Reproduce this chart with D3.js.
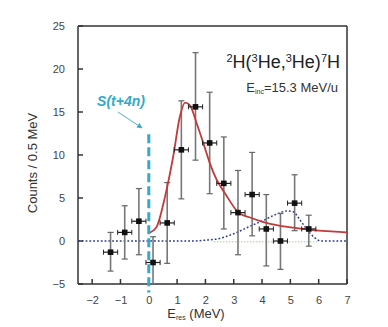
<!DOCTYPE html>
<html>
<head>
<meta charset="utf-8">
<script src="https://cdn.jsdelivr.net/npm/d3@7"></script>
<style>
  body { margin: 0; background: #fff; }
  text { font-family: "Liberation Sans", Arial, sans-serif; }
</style>
</head>
<body>
<div id="chart"></div>
<script>
// measured spectrum, bins of 0.5 MeV
const binCenters = [-1.35, -0.85, -0.35, 0.15, 0.65, 1.15, 1.65, 2.15, 2.65, 3.15, 3.65, 4.15, 4.65, 5.15, 5.65];
const counts     = [-1.3, 1.0, 2.3, -2.5, 2.1, 10.6, 15.6, 11.4, 6.7, 3.3, 5.4, 1.4, 0.0, 4.4, 1.4];
const errHigh    = [1.0, 4.1, 6.1, 0.5, 6.8, 16.3, 21.9, 17.3, 12.1, 8.2, 10.3, 5.4, 3.2, 7.7, 3.0];
const errLow     = [-3.5, -2.1, -1.6, -5.0, -2.6, 4.9, 9.4, 5.5, 1.4, -1.6, 0.6, -2.9, -3.3, 1.2, -0.6];

// fitted curve (red)
const fitX = [0.0, 0.27, 0.57, 0.86, 1.1, 1.28, 1.45, 1.69, 1.93, 2.16, 2.4, 2.7, 3.17, 3.6, 4.05, 4.6, 5.1, 5.7, 6.3, 7.0];
const fitY = [0.9, 1.6, 5.1, 9.8, 14.5, 16.1, 15.8, 13.7, 11.35, 9.0, 7.1, 5.5, 3.3, 2.7, 2.2, 1.8, 1.55, 1.3, 1.15, 1.0];

// background component (blue dotted)
const bgX = [-2.5, 1.5, 2.0, 2.5, 3.0, 3.5, 4.05, 4.5, 4.9, 5.1, 5.35, 5.6, 5.85, 6.1, 7.0];
const bgY = [0, 0, 0.1, 0.3, 0.85, 1.6, 2.4, 3.1, 3.5, 3.4, 2.4, 1.3, 0.4, 0.0, 0.0];

const xTicks = [-2, -1, 0, 1, 2, 3, 4, 5, 6, 7];
const yTicks = [-5, 0, 5, 10, 15, 20, 25];
const thresholdE = 0;

const W = 388, H = 327;
const x = d3.scaleLinear().domain([-2.5, 7]).range([78, 347]);
const y = d3.scaleLinear().domain([-5, 25]).range([284, 26]);

const svg = d3.select("#chart").append("svg")
    .attr("width", W).attr("height", H);

const frameCol = "#333";

// axes: labels from d3, ticks drawn inward
svg.append("g")
    .attr("transform", "translate(0," + y(-5) + ")")
    .call(d3.axisBottom(x).tickValues(xTicks).tickSize(0).tickPadding(12))
    .call(g => g.select(".domain").remove())
    .call(g => g.selectAll("text").attr("font-size", 11).attr("fill", "#444"));

svg.append("g")
    .attr("transform", "translate(" + x(-2.5) + ",0)")
    .call(d3.axisLeft(y).tickValues(yTicks).tickSize(0).tickPadding(13))
    .call(g => g.select(".domain").remove())
    .call(g => g.selectAll("text").attr("font-size", 11).attr("fill", "#444"));

const [x0, x1] = x.range(), [y0, y1] = y.range();
const frame = svg.append("g").attr("stroke", frameCol).attr("stroke-width", 1.5);
frame.selectAll(".xt").data(xTicks).enter().append("line")
    .attr("x1", d => x(d)).attr("x2", d => x(d)).attr("y1", y0).attr("y2", y0 - 5);
frame.selectAll(".yt").data(yTicks).enter().append("line")
    .attr("x1", x0).attr("x2", x0 + 5).attr("y1", d => y(d)).attr("y2", d => y(d));
frame.append("line").attr("x1", x0).attr("x2", x1).attr("y1", y1).attr("y2", y1);
frame.append("line").attr("x1", x0).attr("x2", x1).attr("y1", y0).attr("y2", y0);
frame.append("line").attr("x1", x0).attr("x2", x0).attr("y1", y0).attr("y2", y1);
frame.append("line").attr("x1", x1).attr("x2", x1).attr("y1", y0).attr("y2", y1);

// zero lines
svg.append("line")
    .attr("x1", x(2.3)).attr("x2", x(6)).attr("y1", y(-0.1)).attr("y2", y(-0.1))
    .attr("stroke", "#9c9").attr("stroke-width", 1).attr("stroke-dasharray", "1.5,1.5");

const line = d3.line().x(d => x(d[0])).y(d => y(d[1])).curve(d3.curveMonotoneX);

svg.append("path")
    .datum(bgX.map((v, i) => [v, bgY[i]]))
    .attr("d", line)
    .attr("fill", "none").attr("stroke", "#2c3a90").attr("stroke-width", 1.5)
    .attr("stroke-dasharray", "1.8,2");

// error bars
const pts = binCenters.map((c, i) => ({x: c, y: counts[i], hi: errHigh[i], lo: errLow[i]}));
const eb = svg.append("g");
eb.selectAll(".ev").data(pts).enter().append("line")
    .attr("x1", d => x(d.x)).attr("x2", d => x(d.x))
    .attr("y1", d => y(d.hi)).attr("y2", d => y(d.lo))
    .attr("stroke", "#777").attr("stroke-width", 1.6);
["hi", "lo"].forEach(k => {
  eb.selectAll(".cap-" + k).data(pts).enter().append("line")
      .attr("x1", d => x(d.x) - 3).attr("x2", d => x(d.x) + 3)
      .attr("y1", d => y(d[k])).attr("y2", d => y(d[k]))
      .attr("stroke", "#666").attr("stroke-width", 1.2);
});

// fit curve
svg.append("path")
    .datum(fitX.map((v, i) => [v, fitY[i]]))
    .attr("d", line)
    .attr("fill", "none").attr("stroke", "#c23a3a").attr("stroke-width", 1.8);

// horizontal bars and markers
const hb = svg.append("g");
hb.selectAll(".eh").data(pts).enter().append("line")
    .attr("x1", d => x(d.x - 0.25)).attr("x2", d => x(d.x + 0.25))
    .attr("y1", d => y(d.y)).attr("y2", d => y(d.y))
    .attr("stroke", "#222").attr("stroke-width", 1.2);
[-0.25, 0.25].forEach((off, j) => {
  hb.selectAll(".hcap" + j).data(pts).enter().append("line")
      .attr("x1", d => x(d.x + off)).attr("x2", d => x(d.x + off))
      .attr("y1", d => y(d.y) - 2.5).attr("y2", d => y(d.y) + 2.5)
      .attr("stroke", "#222").attr("stroke-width", 1);
});
hb.selectAll(".mk").data(pts).enter().append("rect")
    .attr("x", d => x(d.x) - 2.8).attr("y", d => y(d.y) - 2.8)
    .attr("width", 5.6).attr("height", 5.6).attr("fill", "#111");

// threshold
const cyan = "#34a9c9";
svg.append("line")
    .attr("x1", x(thresholdE)).attr("x2", x(thresholdE))
    .attr("y1", y(12.4)).attr("y2", y(-6))
    .attr("stroke", cyan).attr("stroke-width", 3).attr("stroke-dasharray", "9,4");

svg.append("text")
    .attr("x", 121).attr("y", 106).attr("text-anchor", "middle")
    .attr("font-size", 14).attr("font-weight", "bold").attr("font-style", "italic")
    .attr("fill", cyan).text("S(t+4n)");

svg.append("defs").append("marker")
    .attr("id", "arr").attr("viewBox", "0 0 10 10").attr("refX", 9).attr("refY", 5)
    .attr("markerWidth", 6).attr("markerHeight", 6).attr("orient", "auto")
  .append("path").attr("d", "M0,0L10,5L0,10z").attr("fill", cyan);
svg.append("line")
    .attr("x1", 118).attr("y1", 112).attr("x2", 142).attr("y2", 128)
    .attr("stroke", cyan).attr("stroke-width", 0.9).attr("marker-end", "url(#arr)");

// reaction label
const t1 = svg.append("text").attr("x", 340).attr("y", 68).attr("text-anchor", "end")
    .attr("font-size", 18).attr("fill", "#222");
[["2", true], ["H(", false], ["3", true], ["He,", false], ["3", true], ["He)", false], ["7", true], ["H", false]]
  .forEach(([s, sup]) => {
    t1.append("tspan").attr("font-size", sup ? 11 : 18)
      .attr("baseline-shift", sup ? "55%" : null).text(s);
  });

const t2 = svg.append("text").attr("x", 338).attr("y", 92).attr("text-anchor", "end")
    .attr("font-size", 13).attr("fill", "#333");
t2.append("tspan").text("E");
t2.append("tspan").attr("font-size", 7).attr("baseline-shift", "-35%").text("inc");
t2.append("tspan").text("=15.3 MeV/u");

// axis titles
svg.append("text")
    .attr("transform", "translate(37,163) rotate(-90)")
    .attr("text-anchor", "middle").attr("font-size", 13).attr("fill", "#333")
    .text("Counts / 0.5 MeV");

const xl = svg.append("text").attr("x", 196).attr("y", 318).attr("text-anchor", "middle")
    .attr("font-size", 13).attr("fill", "#333");
xl.append("tspan").text("E");
xl.append("tspan").attr("font-size", 7).attr("baseline-shift", "-35%").text("res");
xl.append("tspan").text(" (MeV)");
</script>
</body>
</html>
